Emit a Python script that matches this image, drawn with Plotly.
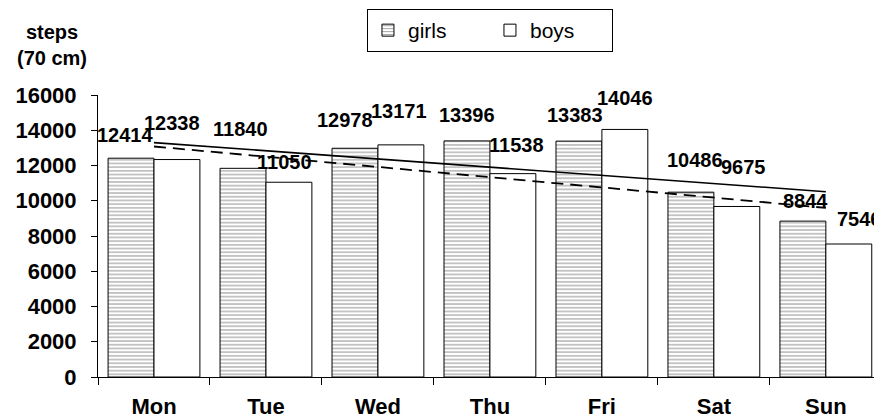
import numpy as np
import plotly.graph_objects as go

# ---- data ----
days = ["Mon", "Tue", "Wed", "Thu", "Fri", "Sat", "Sun"]
girls = [12414, 11840, 12978, 13396, 13383, 10486, 8844]
boys = [12338, 11050, 13171, 11538, 14046, 9675, 7546]
y_ticks = [0, 2000, 4000, 6000, 8000, 10000, 12000, 14000, 16000]
y_tick_labels = [str(v) for v in y_ticks]

# label nudges in pixels (dx, dy above bar top)
girls_dx = [-6, -3, -10, 0, -4, 4, 3]
girls_dy = [15, 31, 20, 18, 18, 24, 12]
boys_dx = [-5, -4, -2, 4, 0, 7, 11]
boys_dy = [29, 12, 26, 21, 23, 31, 17]

FONT = "Liberation Sans, Arial, sans-serif"
BARGAP = 0.18

fig = go.Figure()
fig.add_trace(go.Bar(
    name="girls", x=days, y=girls,
    marker=dict(color="white", line=dict(color="black", width=1),
                pattern=dict(shape="-", size=3.7, solidity=0.3,
                             fgcolor="#333333", bgcolor="white")),
))
fig.add_trace(go.Bar(
    name="boys", x=days, y=boys,
    marker=dict(color="white", line=dict(color="black", width=1)),
))

# linear trend lines
idx = np.arange(len(days))
g_fit = np.polyval(np.polyfit(idx, girls, 1), idx)
b_fit = np.polyval(np.polyfit(idx, boys, 1), idx)
fig.add_trace(go.Scatter(x=days, y=g_fit, mode="lines", showlegend=False,
                         line=dict(color="black", width=1.6), hoverinfo="skip"))
fig.add_trace(go.Scatter(x=days, y=b_fit, mode="lines", showlegend=False,
                         line=dict(color="black", width=1.8, dash="12px,7px"),
                         hoverinfo="skip"))

# data labels
off = (1 - BARGAP) / 4
ann = []
for series, sign, dxs, dys in [(girls, -1, girls_dx, girls_dy), (boys, 1, boys_dx, boys_dy)]:
    for i, v in enumerate(series):
        ann.append(dict(x=i + sign * off, y=v, xref="x", yref="y", text=str(v),
                        showarrow=False, xanchor="center", yanchor="bottom",
                        xshift=dxs[i], yshift=dys[i] - 5,
                        font=dict(family=FONT, size=20, color="black", weight="bold")))

ann.append(dict(x=-0.0593, y=1.27, xref="paper", yref="paper", text="steps<br>(70 cm)",
                showarrow=False, xanchor="center", yanchor="top",
                font=dict(family=FONT, size=20, color="black", weight="bold")))

fig.update_layout(
    width=874, height=418,
    margin=dict(l=98, r=0, t=95, b=41, pad=0, autoexpand=False),
    paper_bgcolor="white", plot_bgcolor="white",
    barmode="group", bargap=BARGAP, bargroupgap=0,
    font=dict(family=FONT, color="black"),
    annotations=ann,
    legend=dict(orientation="h", x=0.3466, xanchor="left", y=1 + (95 - 9) / 282,
                yanchor="top", bordercolor="black", borderwidth=1, bgcolor="white",
                font=dict(family=FONT, size=21, color="black"),
                entrywidth=77, entrywidthmode="pixels"),
    showlegend=True,
)
fig.update_xaxes(type="category", range=[-0.5, 6.43], showline=True, linecolor="black",
                 linewidth=1, ticks="outside", tickson="boundaries", ticklen=7,
                 tickcolor="black", showgrid=False, zeroline=False, automargin=False,
                 tickfont=dict(family=FONT, size=22, color="black", weight="bold"),
                 ticklabelstandoff=10)
fig.update_yaxes(range=[0, 16000], tickvals=y_ticks, ticktext=y_tick_labels,
                 showline=True, linecolor="black", automargin=False,
                 linewidth=1, ticks="outside", ticklen=6, tickcolor="black",
                 showgrid=False, zeroline=False,
                 tickfont=dict(family=FONT, size=22, color="black", weight="bold"),
                 ticklabelstandoff=10)

fig.write_html("out.html", config={"displayModeBar": False},
               post_script="document.body.style.margin='0';")
